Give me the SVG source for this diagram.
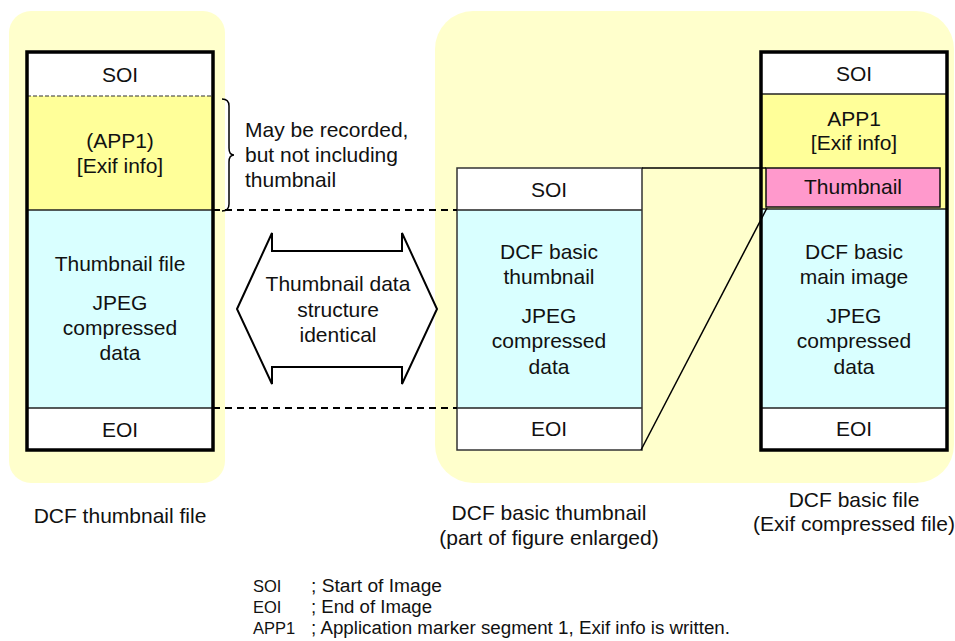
<svg xmlns="http://www.w3.org/2000/svg" width="955" height="641" viewBox="0 0 955 641">
  <style>
    text { font-family: "Liberation Sans", Arial, sans-serif; font-size: 21px; fill: #111; }
    .c { text-anchor: middle; }
    .leg { font-size: 18px; }
    .key { font-size: 16.5px; }
    .bg { fill: #FFFFCC; }
    .white { fill: #FFFFFF; }
    .app { fill: #FFFF99; }
    .data { fill: #D9FFFF; }
    .thumb { fill: #FF99CC; stroke: #111; stroke-width: 1.5; }
    .div { stroke: #222; stroke-width: 1.3; fill: none; }
    .frame { fill: none; stroke: #000; stroke-width: 3.5; }
    .thin { fill: none; stroke: #333; stroke-width: 1.5; }
    .dash { stroke: #000; stroke-width: 2; stroke-dasharray: 7 5; fill: none; }
    .line { stroke: #000; stroke-width: 1.5; fill: none; }
  </style>

  <!-- background panels -->
  <rect class="bg" x="9" y="11" width="216" height="472" rx="22"/>
  <rect class="bg" x="435" y="11" width="519" height="472" rx="38"/>

  <!-- DCF thumbnail file -->
  <g id="thumbnail-file">
    <rect class="white" x="27" y="52" width="186" height="44"/>
    <rect class="app" x="27" y="96" width="186" height="114"/>
    <rect class="data" x="27" y="210" width="186" height="198"/>
    <rect class="white" x="27" y="408" width="186" height="42"/>
    <line x1="27" y1="96" x2="213" y2="96" stroke="#333" stroke-width="1.2" stroke-dasharray="4 2"/>
    <line class="div" x1="27" y1="210" x2="213" y2="210"/>
    <line class="div" x1="27" y1="408" x2="213" y2="408"/>
    <rect class="frame" x="27" y="52" width="186" height="398"/>
    <text class="c" x="120" y="82">SOI</text>
    <text class="c" x="120" y="148">(APP1)</text>
    <text class="c" x="120" y="173">[Exif info]</text>
    <text class="c" x="120" y="271">Thumbnail file</text>
    <text class="c" x="120" y="310">JPEG</text>
    <text class="c" x="120" y="335">compressed</text>
    <text class="c" x="120" y="360">data</text>
    <text class="c" x="120" y="437">EOI</text>
  </g>

  <!-- note on the optional APP1 segment -->
  <g id="app1-note">
    <path class="line" d="M222,99 Q229,99 229,106 L229,148 Q229,155 234,155 Q229,155 229,162 L229,204 Q229,211 222,211"/>
    <text x="245" y="137">May be recorded,</text>
    <text x="245" y="162">but not including</text>
    <text x="245" y="187">thumbnail</text>
  </g>

  <!-- identical-structure double arrow -->
  <g id="identical-arrow">
    <polygon points="237,309 272,233 272,251 402,251 402,233 437,309 402,384 402,367 272,367 272,384" fill="#FFFFFF" stroke="#000" stroke-width="2" stroke-linejoin="miter"/>
    <text class="c" x="338" y="291">Thumbnail data</text>
    <text class="c" x="338" y="317">structure</text>
    <text class="c" x="338" y="342">identical</text>
  </g>

  <!-- DCF basic thumbnail (enlarged) -->
  <g id="basic-thumbnail">
    <rect class="white" x="457" y="168" width="185" height="42"/>
    <rect class="data" x="457" y="210" width="185" height="198"/>
    <rect class="white" x="457" y="408" width="185" height="42"/>
    <line class="div" x1="457" y1="210" x2="642" y2="210"/>
    <line class="div" x1="457" y1="408" x2="642" y2="408"/>
    <rect class="thin" x="457" y="168" width="185" height="282"/>
    <text class="c" x="549" y="197">SOI</text>
    <text class="c" x="549" y="259">DCF basic</text>
    <text class="c" x="549" y="284">thumbnail</text>
    <text class="c" x="549" y="323">JPEG</text>
    <text class="c" x="549" y="348">compressed</text>
    <text class="c" x="549" y="374">data</text>
    <text class="c" x="549" y="436">EOI</text>
  </g>

  <!-- DCF basic file -->
  <g id="basic-file">
    <rect class="white" x="761" y="52" width="186" height="42"/>
    <rect class="app" x="761" y="94" width="186" height="115"/>
    <rect class="data" x="761" y="209" width="186" height="199"/>
    <rect class="white" x="761" y="408" width="186" height="42"/>
    <line class="div" x1="761" y1="94" x2="947" y2="94"/>
    <line class="div" x1="761" y1="209" x2="947" y2="209"/>
    <line class="div" x1="761" y1="408" x2="947" y2="408"/>
    <rect class="frame" x="761" y="52" width="186" height="398"/>
    <text class="c" x="854" y="81">SOI</text>
    <text class="c" x="854" y="126">APP1</text>
    <text class="c" x="854" y="150">[Exif info]</text>
    <text class="c" x="854" y="259">DCF basic</text>
    <text class="c" x="854" y="284">main image</text>
    <text class="c" x="854" y="323">JPEG</text>
    <text class="c" x="854" y="348">compressed</text>
    <text class="c" x="854" y="374">data</text>
    <text class="c" x="854" y="436">EOI</text>
  </g>

  <g id="thumbnail-segment">
    <rect class="thumb" x="766" y="168" width="174" height="39"/>
    <text class="c" x="853" y="194">Thumbnail</text>
  </g>

  <!-- connectors -->
  <g id="connectors">
    <line class="dash" x1="213" y1="210" x2="457" y2="210"/>
    <line class="dash" x1="213" y1="408" x2="457" y2="408"/>
    <line class="line" x1="642" y1="168" x2="766" y2="168"/>
    <line class="line" x1="641" y1="450" x2="767" y2="208"/>
  </g>

  <!-- captions -->
  <g id="captions">
    <text class="c" x="120" y="523">DCF thumbnail file</text>
    <text class="c" x="549" y="520">DCF basic thumbnail</text>
    <text class="c" x="549" y="545">(part of figure enlarged)</text>
    <text class="c" x="854" y="507">DCF basic file</text>
    <text class="c" x="854" y="531">(Exif compressed file)</text>
  </g>

  <!-- legend -->
  <g id="legend">
    <text class="key" x="253" y="592">SOI</text>
    <text class="leg" x="311" y="592" textLength="131" lengthAdjust="spacingAndGlyphs">; Start of Image</text>
    <text class="key" x="253" y="613">EOI</text>
    <text class="leg" x="311" y="613" textLength="121" lengthAdjust="spacingAndGlyphs">; End of Image</text>
    <text class="key" x="253" y="634">APP1</text>
    <text class="leg" x="311" y="634" textLength="419" lengthAdjust="spacingAndGlyphs">; Application marker segment 1, Exif info is written.</text>
  </g>
</svg>
